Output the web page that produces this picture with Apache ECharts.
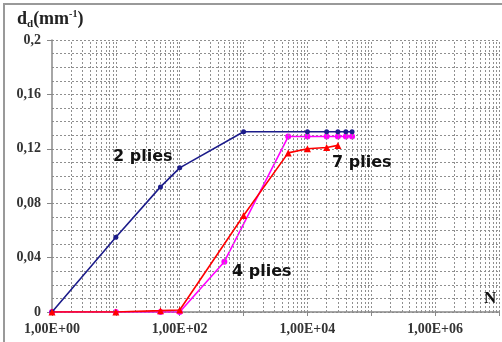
<!DOCTYPE html>
<html><head><meta charset="utf-8">
<script src="https://cdn.jsdelivr.net/npm/echarts@6/dist/echarts.min.js"></script>
<style>html,body{margin:0;padding:0;background:#fff}#c{width:502px;height:342px}</style>
</head><body><div id="c"></div>
<script>
// Data
const x2 = [1, 10, 50, 100, 1000, 10000, 20000, 30000, 40000, 50000];
const y2 = [0, 0.055, 0.092, 0.106, 0.1325, 0.1325, 0.1325, 0.1325, 0.1325, 0.1325];
const x4 = [1, 10, 50, 100, 500, 5000, 10000, 20000, 30000, 40000, 50000];
const y4 = [0, 0, 0, 0, 0.037, 0.129, 0.129, 0.129, 0.129, 0.129, 0.129];
const x7 = [1, 10, 50, 100, 1000, 5000, 10000, 20000, 30000];
const y7 = [0, 0, 0.001, 0.0015, 0.071, 0.117, 0.120, 0.121, 0.1225];
const seriesNames = ['2 plies', '4 plies', '7 plies'];
const xTickLabels = ['1,00E+00', '1,00E+02', '1,00E+04', '1,00E+06'];
const yTickLabels = ['0', '0,04', '0,08', '0,12', '0,16', '0,2'];

const pair = (xs, ys) => xs.map((x, i) => [x, ys[i]]);

// vertical log gridlines (decoration)
const vLines = [];
for (let e = 0; e < 7; e++) {
  for (let m = 1; m <= 9; m++) {
    const v = m * Math.pow(10, e);
    if (v > 1) vLines.push({ xAxis: v });
  }
}
vLines.push({ xAxis: 1e7 });

const chart = echarts.init(document.getElementById('c'), null, { renderer: 'canvas' });
const gridStyle = { color: '#8f8f8f', width: 1, type: [2, 2] };
const serif = '"Liberation Serif", "DejaVu Serif", serif';
const sans = '"DejaVu Sans", sans-serif';

chart.setOption({
  animation: false,
  backgroundColor: '#fff',
  grid: { left: 52, top: 40, width: 451, height: 272, containLabel: false },
  xAxis: {
    type: 'log', logBase: 10, min: 1, max: 1e7, splitNumber: 7,
    axisLine: { show: true, lineStyle: { color: '#888', width: 1.5 } },
    axisTick: { show: true, length: 4, lineStyle: { color: '#888' } },
    splitLine: { show: false },
    axisLabel: {
      margin: 10, color: '#333', fontFamily: serif, fontWeight: 'bold', fontSize: 14,
      formatter: v => {
        const e = Math.round(Math.log10(v));
        return e % 2 === 0 ? xTickLabels[e / 2] : '';
      }
    }
  },
  yAxis: {
    type: 'value', min: 0, max: 0.2, interval: 0.04,
    axisLine: { show: true, lineStyle: { color: '#888', width: 1.5 } },
    axisTick: { show: true, length: 5, lineStyle: { color: '#888' } },
    splitLine: { show: true, lineStyle: gridStyle },
    minorTick: { show: false, splitNumber: 4 },
    minorSplitLine: { show: true, lineStyle: gridStyle },
    axisLabel: {
      margin: 11, color: '#333', fontFamily: serif, fontWeight: 'bold', fontSize: 14,
      formatter: v => yTickLabels[Math.round(v / 0.04)]
    }
  },
  series: [
    {
      type: 'line', data: [[1, 0]], symbol: 'none', silent: true, z: 1,
      lineStyle: { opacity: 0 },
      markLine: {
        silent: true, symbol: 'none', label: { show: false },
        lineStyle: gridStyle, data: vLines, animation: false
      }
    },
    {
      name: seriesNames[0], type: 'line', data: pair(x2, y2), z: 5,
      color: '#1c1c8a', symbol: 'circle', symbolSize: 5,
      lineStyle: { width: 1.6, color: '#1c1c8a' }
    },
    {
      name: seriesNames[1], type: 'line', data: pair(x4, y4), z: 4,
      color: '#ff00ff', symbol: 'circle', symbolSize: 6,
      lineStyle: { width: 1.6, color: '#ff00ff' }
    },
    {
      name: seriesNames[2], type: 'line', data: pair(x7, y7), z: 6,
      color: '#ff0000', symbol: 'triangle', symbolSize: 7,
      lineStyle: { width: 1.6, color: '#ff0000' }
    }
  ],
  graphic: [
    { type: 'rect', shape: { x: 4, y: 4, width: 620, height: 420 }, style: { fill: null, stroke: '#999', lineWidth: 2 }, z: 100 },
    { type: 'text', left: 17, top: 9, z: 100, style: {
        text: '{a|d}{b|d}{a|(mm}{c|-1}{a|)}',
        rich: {
          a: { fontFamily: serif, fontWeight: 'bold', fontSize: 18, fill: '#222' },
          b: { fontFamily: serif, fontWeight: 'bold', fontSize: 11, fill: '#222', padding: [10, 0, 0, 0] },
          c: { fontFamily: serif, fontWeight: 'bold', fontSize: 10, fill: '#222', padding: [0, 0, 10, 0] }
        }
    } },
    { type: 'text', left: 113, top: 149, z: 100, style: { text: seriesNames[0], font: 'bold 16px ' + sans, fill: '#111' } },
    { type: 'text', left: 332, top: 155, z: 100, style: { text: seriesNames[2], font: 'bold 16px ' + sans, fill: '#111' } },
    { type: 'text', left: 232, top: 264, z: 100, style: { text: seriesNames[1], font: 'bold 16px ' + sans, fill: '#111' } },
    { type: 'text', left: 484, top: 290, z: 100, style: { text: 'N', font: 'bold 17px ' + serif, fill: '#111' } }
  ]
});
</script></body></html>
